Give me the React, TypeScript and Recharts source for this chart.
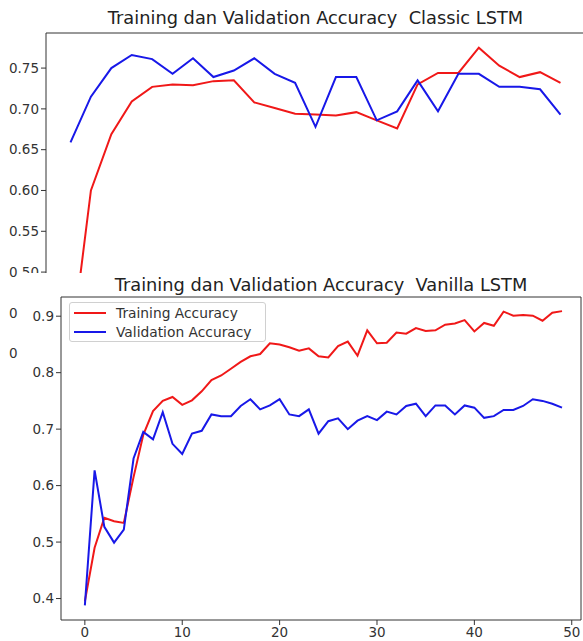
import { LineChart, Line, XAxis, YAxis, ReferenceArea, Legend } from "recharts";

const FONT = "'DejaVu Sans', sans-serif";
const RED = "#f01818";
const BLUE = "#1818e8";

// Classic LSTM (25 epochs)
const classicTrain = [
  0.40, 0.600, 0.669, 0.709, 0.727, 0.730, 0.729, 0.734, 0.735, 0.708,
  0.701, 0.694, 0.693, 0.692, 0.696, 0.686, 0.676, 0.730, 0.744, 0.744,
  0.775, 0.753, 0.739, 0.745, 0.732,
];
const classicVal = [
  0.659, 0.715, 0.750, 0.766, 0.761, 0.743, 0.762, 0.739, 0.747, 0.762,
  0.743, 0.732, 0.678, 0.739, 0.739, 0.686, 0.697, 0.735, 0.697, 0.743,
  0.743, 0.727, 0.727, 0.724, 0.693,
];
const classicYTicks = [0.4, 0.45, 0.5, 0.55, 0.6, 0.65, 0.7, 0.75];

// Vanilla LSTM (50 epochs)
const vanillaTrain = [
  0.395, 0.490, 0.543, 0.537, 0.534, 0.615, 0.690, 0.732, 0.750, 0.757,
  0.743, 0.751, 0.767, 0.787, 0.795, 0.807, 0.819, 0.829, 0.833, 0.852,
  0.850, 0.845, 0.839, 0.843, 0.829, 0.827, 0.847, 0.855, 0.830, 0.875,
  0.852, 0.853, 0.871, 0.869, 0.879, 0.874, 0.875, 0.885, 0.887, 0.893,
  0.873, 0.888, 0.883, 0.908, 0.901, 0.902, 0.901, 0.892, 0.906, 0.909,
];
const vanillaVal = [
  0.388, 0.627, 0.527, 0.499, 0.522, 0.648, 0.695, 0.682, 0.730, 0.674,
  0.656, 0.692, 0.697, 0.726, 0.723, 0.723, 0.741, 0.753, 0.735, 0.742,
  0.753, 0.726, 0.723, 0.735, 0.692, 0.714, 0.719, 0.700, 0.715, 0.723,
  0.716, 0.731, 0.726, 0.741, 0.745, 0.723, 0.742, 0.742, 0.726, 0.742,
  0.738, 0.720, 0.723, 0.734, 0.734, 0.741, 0.753, 0.750, 0.745, 0.738,
];
const vanillaYTicks = [0.4, 0.5, 0.6, 0.7, 0.8, 0.9];
const vanillaXTicks = [0, 10, 20, 30, 40, 50];

const classicData = classicTrain.map((t, i) => ({ epoch: i, train: t, val: classicVal[i] }));
const vanillaData = vanillaTrain.map((t, i) => ({ epoch: i, train: t, val: vanillaVal[i] }));

const tickStyle = { fill: "#333", fontSize: 13.5, fontFamily: FONT };
const titleStyle = { fontFamily: FONT, fontSize: 17.8, color: "#222", whiteSpace: "pre" as const, textAlign: "center" as const };

function MplLegend() {
  const items = [
    { label: "Training Accuracy", color: RED },
    { label: "Validation Accuracy", color: BLUE },
  ];
  return (
    <div
      style={{
        width: 197,
        height: 40,
        border: "1px solid #d0d0d0",
        borderRadius: 3,
        background: "rgba(255,255,255,0.85)",
        fontFamily: FONT,
        fontSize: 13.8,
        color: "#333",
        boxSizing: "border-box",
        paddingTop: 1,
      }}
    >
      {items.map((it) => (
        <div key={it.label} style={{ display: "flex", alignItems: "center", height: 18.5 }}>
          <span style={{ display: "inline-block", width: 32, height: 2, background: it.color, marginLeft: 4, marginRight: 10 }} />
          <span>{it.label}</span>
        </div>
      ))}
    </div>
  );
}

export default function App() {
  return (
    <div style={{ position: "absolute", left: 0, top: 0, width: 583, height: 641, background: "#fff", overflow: "hidden" }}>
      {/* Classic LSTM, partly covered by the second figure */}
      <div style={{ position: "absolute", left: 0, top: 0, width: 583, height: 400, overflow: "hidden" }}>
        <div style={{ ...titleStyle, position: "absolute", left: 46, top: 7, width: 539 }}>
          Training dan Validation Accuracy  Classic LSTM
        </div>
        <LineChart width={600} height={380} data={classicData} margin={{ top: 33, right: 15, bottom: 10, left: 0 }}>
          <XAxis type="number" dataKey="epoch" domain={[-1.2, 25.2]} hide height={0} />
          <YAxis
            type="number"
            domain={[0.38, 0.793]}
            ticks={classicYTicks}
            interval={0}
            allowDataOverflow
            width={46}
            axisLine={false}
            tickSize={5}
            tickLine={{ stroke: "#333" }}
            tick={tickStyle}
            tickFormatter={(v: number) => v.toFixed(2)}
          />
          <ReferenceArea x1={-1.2} x2={25.2} y1={0.38} y2={0.793} fill="none" stroke="#333" strokeWidth={1} ifOverflow="visible" />
          <Line dataKey="train" stroke={RED} strokeWidth={2} dot={false} isAnimationActive={false} />
          <Line dataKey="val" stroke={BLUE} strokeWidth={2} dot={false} isAnimationActive={false} />
        </LineChart>
      </div>

      {/* Vanilla LSTM */}
      <div style={{ position: "absolute", left: 18, top: 273, width: 565, height: 368, background: "#fff", overflow: "hidden" }}>
        <div style={{ ...titleStyle, position: "absolute", left: 43, top: 1, width: 520 }}>
          Training dan Validation Accuracy  Vanilla LSTM
        </div>
        <LineChart width={565} height={368} data={vanillaData} margin={{ top: 24, right: 2, bottom: 0, left: 0 }}>
          <XAxis
            type="number"
            dataKey="epoch"
            domain={[-2.45, 50.95]}
            ticks={vanillaXTicks}
            interval={0}
            allowDataOverflow
            height={21}
            axisLine={false}
            tickSize={5}
            tickLine={{ stroke: "#333" }}
            tick={tickStyle}
          />
          <YAxis
            type="number"
            domain={[0.362, 0.934]}
            ticks={vanillaYTicks}
            interval={0}
            allowDataOverflow
            width={43}
            axisLine={false}
            tickSize={5}
            tickLine={{ stroke: "#333" }}
            tick={tickStyle}
            tickFormatter={(v: number) => v.toFixed(1)}
          />
          <ReferenceArea x1={-2.45} x2={50.95} y1={0.362} y2={0.934} fill="none" stroke="#333" strokeWidth={1} ifOverflow="visible" />
          <Line dataKey="train" name="Training Accuracy" stroke={RED} strokeWidth={2} dot={false} isAnimationActive={false} />
          <Line dataKey="val" name="Validation Accuracy" stroke={BLUE} strokeWidth={2} dot={false} isAnimationActive={false} />
          <Legend
            layout="vertical"
            align="center"
            verticalAlign="middle"
            content={() => <MplLegend />}
            wrapperStyle={{ left: 51, top: 29, width: 197, height: 40 }}
          />
        </LineChart>
      </div>
    </div>
  );
}
